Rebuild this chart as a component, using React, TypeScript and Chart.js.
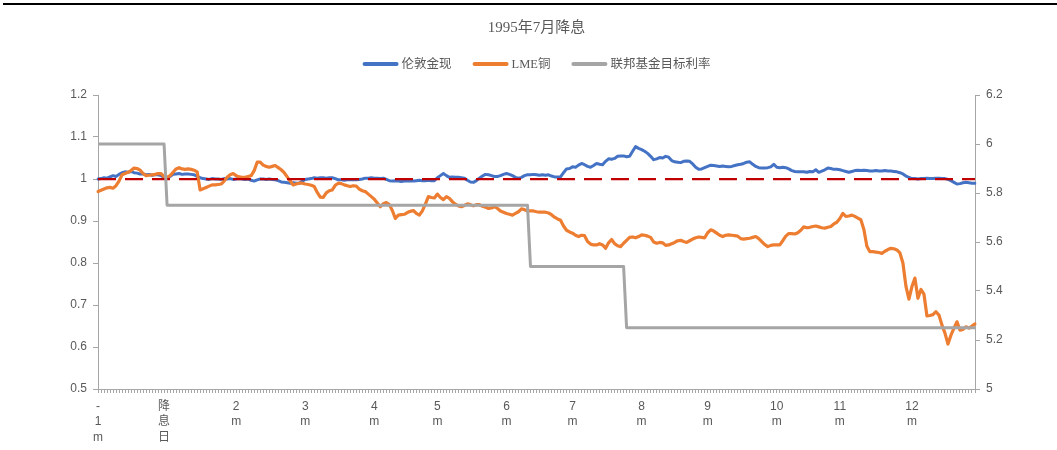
import React, { useEffect, useRef } from 'react';
import { Chart, registerables } from 'chart.js';

Chart.register(...registerables);

// Trading-day positions carrying a month label, and the label text (one character per line)
const monthTickIndex = [0, 22, 46, 69, 92, 113, 136, 158, 181, 203, 226, 247, 271];
const monthTickText = [
  ['-', '1', 'm'], ['降', '息', '日'], ['2', 'm'], ['3', 'm'], ['4', 'm'], ['5', 'm'],
  ['6', 'm'], ['7', 'm'], ['8', 'm'], ['9', 'm'], ['10', 'm'], ['11', 'm'], ['12', 'm'],
];

// London spot gold, rebased to the level one month before the cut
const goldValues = [
  1.000, 1.001, 1.003, 1.002, 1.005, 1.008, 1.006, 1.011, 1.015, 1.017,
  1.016, 1.018, 1.015, 1.014, 1.012, 1.012, 1.010, 1.011, 1.009, 1.010,
  1.010, 1.008, 1.003, 1.002, 1.006, 1.011, 1.012, 1.013, 1.011, 1.012,
  1.012, 1.011, 1.010, 1.006, 1.003, 1.001, 1.000, 0.999, 1.001, 1.000,
  1.000, 0.999, 1.001, 1.000, 1.001, 0.999, 1.000, 1.001, 1.000, 0.999,
  1.000, 0.997, 0.995, 0.998, 1.000, 1.000, 0.999, 1.000, 0.999, 0.998,
  0.996, 0.993, 0.992, 0.991, 0.990, 0.991, 0.990, 0.990, 0.995, 0.999,
  1.000, 1.001, 1.003, 1.002, 1.003, 1.003, 1.002, 1.003, 1.003, 1.001,
  0.998, 0.998, 0.997, 0.998, 0.999, 0.998, 0.998, 0.999, 1.000, 1.002,
  1.002, 1.003, 1.002, 1.002, 1.001, 1.002, 0.999, 0.996, 0.995, 0.996,
  0.995, 0.994, 0.995, 0.996, 0.995, 0.995, 0.996, 0.997, 0.996, 0.996,
  0.997, 0.996, 0.996, 1.003, 1.008, 1.013, 1.008, 1.004, 1.005, 1.004,
  1.004, 1.003, 1.002, 0.997, 0.993, 0.992, 0.996, 1.002, 1.007, 1.011,
  1.010, 1.008, 1.006, 1.006, 1.008, 1.011, 1.013, 1.011, 1.008, 1.004,
  1.002, 1.004, 1.008, 1.010, 1.010, 1.011, 1.010, 1.009, 1.010, 1.009,
  1.010, 1.007, 1.005, 1.005, 1.005, 1.015, 1.024, 1.025, 1.029, 1.028,
  1.033, 1.037, 1.034, 1.030, 1.028, 1.032, 1.037, 1.035, 1.034, 1.042,
  1.048, 1.047, 1.049, 1.054, 1.055, 1.055, 1.053, 1.054, 1.066, 1.077,
  1.073, 1.070, 1.066, 1.061, 1.054, 1.046, 1.048, 1.051, 1.050, 1.054,
  1.052, 1.044, 1.041, 1.040, 1.039, 1.042, 1.043, 1.042, 1.036, 1.028,
  1.023, 1.024, 1.027, 1.030, 1.033, 1.032, 1.031, 1.030, 1.031, 1.030,
  1.029, 1.030, 1.032, 1.034, 1.035, 1.037, 1.040, 1.041, 1.035, 1.030,
  1.027, 1.026, 1.026, 1.027, 1.029, 1.035, 1.028, 1.027, 1.028, 1.027,
  1.024, 1.020, 1.018, 1.017, 1.017, 1.017, 1.016, 1.018, 1.017, 1.022,
  1.016, 1.019, 1.022, 1.026, 1.025, 1.023, 1.023, 1.022, 1.020, 1.018,
  1.016, 1.018, 1.020, 1.021, 1.020, 1.021, 1.020, 1.019, 1.019, 1.020,
  1.019, 1.019, 1.020, 1.019, 1.019, 1.018, 1.017, 1.015, 1.012, 1.007,
  1.004, 1.001, 1.001, 1.000, 1.001, 1.001, 1.002, 1.001, 1.001, 1.002,
  1.002, 1.001, 1.001, 0.999, 0.996, 0.992, 0.988, 0.989, 0.991, 0.992,
  0.991, 0.990, 0.990,
];

// LME copper, rebased the same way
const copperValues = [
  0.970, 0.973, 0.976, 0.979, 0.980, 0.978, 0.984, 0.995, 1.010, 1.013,
  1.016, 1.020, 1.026, 1.025, 1.021, 1.013, 1.008, 1.009, 1.010, 1.011,
  1.013, 1.013, 1.005, 1.004, 1.008, 1.016, 1.024, 1.027, 1.024, 1.023,
  1.024, 1.023, 1.021, 1.017, 0.974, 0.977, 0.980, 0.983, 0.986, 0.986,
  0.987, 0.988, 0.995, 1.004, 1.010, 1.013, 1.008, 1.005, 1.004, 1.004,
  1.006, 1.008, 1.020, 1.040, 1.040, 1.033, 1.030, 1.028, 1.030, 1.032,
  1.027, 1.022, 1.015, 1.005, 0.995, 0.986, 0.988, 0.990, 0.990, 0.988,
  0.987, 0.985, 0.982, 0.968, 0.957, 0.956, 0.967, 0.972, 0.974, 0.985,
  0.990, 0.989, 0.986, 0.984, 0.982, 0.984, 0.983, 0.976, 0.972, 0.970,
  0.964, 0.958, 0.952, 0.943, 0.934, 0.941, 0.944, 0.939, 0.925, 0.906,
  0.914, 0.915, 0.916, 0.920, 0.923, 0.925, 0.918, 0.914, 0.924, 0.940,
  0.958, 0.956, 0.955, 0.964, 0.956, 0.951, 0.958, 0.954, 0.946, 0.940,
  0.936, 0.934, 0.937, 0.941, 0.939, 0.936, 0.939, 0.939, 0.935, 0.933,
  0.930, 0.931, 0.934, 0.930, 0.924, 0.921, 0.918, 0.916, 0.914, 0.918,
  0.922, 0.929, 0.927, 0.924, 0.924, 0.924, 0.922, 0.921, 0.921, 0.921,
  0.919, 0.915, 0.909, 0.905, 0.902, 0.888, 0.878, 0.874, 0.871, 0.866,
  0.863, 0.866, 0.865, 0.851, 0.845, 0.843, 0.843, 0.846, 0.843, 0.835,
  0.848, 0.856, 0.846, 0.841, 0.839, 0.847, 0.854, 0.861, 0.862, 0.860,
  0.863, 0.867, 0.866, 0.864, 0.861, 0.850, 0.847, 0.849, 0.848, 0.842,
  0.843, 0.846, 0.849, 0.853, 0.854, 0.851, 0.849, 0.853, 0.857, 0.860,
  0.862, 0.861, 0.860, 0.872, 0.879, 0.876, 0.871, 0.866, 0.863, 0.866,
  0.867, 0.866, 0.865, 0.864, 0.858, 0.857, 0.858, 0.859, 0.861, 0.863,
  0.858, 0.851, 0.844, 0.839, 0.842, 0.843, 0.843, 0.843, 0.853, 0.864,
  0.870, 0.870, 0.869, 0.872, 0.878, 0.886, 0.884, 0.885, 0.887, 0.888,
  0.886, 0.884, 0.883, 0.885, 0.887, 0.893, 0.897, 0.906, 0.918, 0.911,
  0.912, 0.914, 0.911, 0.907, 0.903, 0.880, 0.840, 0.827, 0.827, 0.826,
  0.825, 0.823, 0.828, 0.832, 0.835, 0.834, 0.831, 0.824, 0.800, 0.745,
  0.714, 0.744, 0.764, 0.716, 0.737, 0.726, 0.674, 0.675, 0.677, 0.684,
  0.676, 0.652, 0.633, 0.607, 0.628, 0.645, 0.660, 0.640, 0.642, 0.648,
  0.645, 0.650, 0.655,
];

// Fed funds target rate (%): each level holds from its start day until the next change
const rateLevels = [6.0, 5.75, 5.5, 5.25];
const rateStartIndex = [0, 23, 144, 176];

// Reference level of the rebased price series
const parLevel = 1;

const seriesNames = ['伦敦金现', 'LME铜', '联邦基金目标利率'];
const seriesColors = ['#4472C4', '#ED7D31', '#A5A5A5'];

const N = goldValues.length;

const categoryLabels: (string | string[])[] = Array.from({ length: N }, () => '');
monthTickIndex.forEach((idx, k) => {
  categoryLabels[idx] = monthTickText[k];
});

const rateValues = Array.from({ length: N }, (_, i) => {
  let level = rateLevels[0];
  rateStartIndex.forEach((s, k) => {
    if (i >= s) level = rateLevels[k];
  });
  return level;
});

const parValues = Array.from({ length: N }, () => parLevel);

const TEXT_COLOR = '#595959';
const AXIS_COLOR = '#A6A6A6';
const SANS = "'Liberation Sans', Arial, 'Noto Sans CJK SC', sans-serif";
const SERIF = "'Liberation Serif', 'Times New Roman', 'Noto Sans CJK SC', serif";

// Horizontal legend with line swatches, centred over the plot area
const lineLegend = {
  id: 'lineLegend',
  afterDraw(chart: any) {
    const { ctx, chartArea } = chart;
    ctx.save();
    ctx.font = `12.5px ${SERIF}`;
    ctx.textBaseline = 'middle';
    const swatch = 36;
    const gapText = 3;
    const gapItem = 21;
    const widths = seriesNames.map((t) => swatch + gapText + ctx.measureText(t).width);
    const total = widths.reduce((a, b) => a + b, 0) + gapItem * (seriesNames.length - 1);
    let x = (chartArea.left + chartArea.right) / 2 - total / 2;
    const y = 64;
    seriesNames.forEach((name, k) => {
      ctx.strokeStyle = seriesColors[k];
      ctx.lineWidth = 4;
      ctx.lineCap = 'round';
      ctx.beginPath();
      ctx.moveTo(x + 2, y);
      ctx.lineTo(x + swatch - 2, y);
      ctx.stroke();
      ctx.fillStyle = TEXT_COLOR;
      ctx.textAlign = 'left';
      ctx.fillText(name, x + swatch + gapText, y + 1);
      x += widths[k] + gapItem;
    });
    ctx.restore();
  },
};

export default function App() {
  const canvasRef = useRef<HTMLCanvasElement | null>(null);

  useEffect(() => {
    document.body.style.margin = '0';
    const canvas = canvasRef.current;
    if (!canvas) return;

    const chart = new Chart(canvas, {
      type: 'line',
      data: {
        labels: categoryLabels,
        datasets: [
          {
            label: seriesNames[0],
            data: goldValues,
            yAxisID: 'y',
            borderColor: seriesColors[0],
            backgroundColor: seriesColors[0],
            borderWidth: 3,
            pointRadius: 0,
            borderJoinStyle: 'round',
            borderCapStyle: 'round',
            order: 3,
          },
          {
            label: seriesNames[1],
            data: copperValues,
            yAxisID: 'y',
            borderColor: seriesColors[1],
            backgroundColor: seriesColors[1],
            borderWidth: 3.2,
            pointRadius: 0,
            borderJoinStyle: 'round',
            borderCapStyle: 'round',
            order: 2,
          },
          {
            label: 'par',
            data: parValues,
            yAxisID: 'y',
            borderColor: '#C00000',
            borderWidth: 2.25,
            borderDash: [18, 9],
            pointRadius: 0,
            order: 1,
          },
          {
            label: seriesNames[2],
            data: rateValues,
            yAxisID: 'y1',
            borderColor: seriesColors[2],
            backgroundColor: seriesColors[2],
            borderWidth: 3,
            pointRadius: 0,
            borderJoinStyle: 'round',
            order: 0,
          },
        ],
      },
      options: {
        responsive: false,
        animation: false,
        events: [],
        layout: { padding: { left: 68, right: 52, top: 0, bottom: 0 } },
        plugins: {
          legend: { display: false },
          tooltip: { enabled: false },
          title: {
            display: true,
            text: '1995年7月降息',
            color: TEXT_COLOR,
            font: { family: SERIF, size: 15, weight: 'normal' },
            padding: { top: 19, bottom: 58 },
          },
        },
        scales: {
          x: {
            type: 'category',
            offset: false,
            afterFit: (scale: any) => {
              scale.height = 61;
            },
            grid: {
              drawOnChartArea: false,
              drawTicks: true,
              tickLength: 4,
              color: AXIS_COLOR,
              lineWidth: 1,
            },
            border: { display: true, color: AXIS_COLOR, width: 1 },
            ticks: {
              autoSkip: false,
              maxRotation: 0,
              minRotation: 0,
              padding: 5.5,
              color: TEXT_COLOR,
              font: { family: SANS, size: 12, lineHeight: 1.3 },
            },
          },
          y: {
            position: 'left',
            min: 0.5,
            max: 1.2,
            afterFit: (scale: any) => {
              scale.width = 30;
            },
            grid: { drawOnChartArea: false, drawTicks: true, tickLength: 5, color: AXIS_COLOR },
            border: { display: true, color: AXIS_COLOR, width: 1 },
            ticks: {
              stepSize: 0.1,
              padding: 6,
              color: TEXT_COLOR,
              font: { family: SANS, size: 12 },
              callback: (v: any) => String(Math.round(Number(v) * 10) / 10),
            },
          },
          y1: {
            position: 'right',
            min: 5,
            max: 6.2,
            afterFit: (scale: any) => {
              scale.width = 30;
            },
            grid: { drawOnChartArea: false, drawTicks: true, tickLength: 5, color: AXIS_COLOR },
            border: { display: true, color: AXIS_COLOR, width: 1 },
            ticks: {
              stepSize: 0.2,
              padding: 6,
              color: TEXT_COLOR,
              font: { family: SANS, size: 12 },
              callback: (v: any) => String(Math.round(Number(v) * 10) / 10),
            },
          },
        },
      },
      plugins: [lineLegend],
    });

    return () => {
      chart.destroy();
    };
  }, []);

  return (
    <div style={{ position: 'relative', width: 1057, height: 450, background: '#fff' }}>
      <div
        style={{
          position: 'absolute',
          top: 3,
          left: 3,
          right: 0,
          height: 2,
          background: '#000',
        }}
      />
      <canvas ref={canvasRef} width={1057} height={450} style={{ display: 'block' }} />
    </div>
  );
}
